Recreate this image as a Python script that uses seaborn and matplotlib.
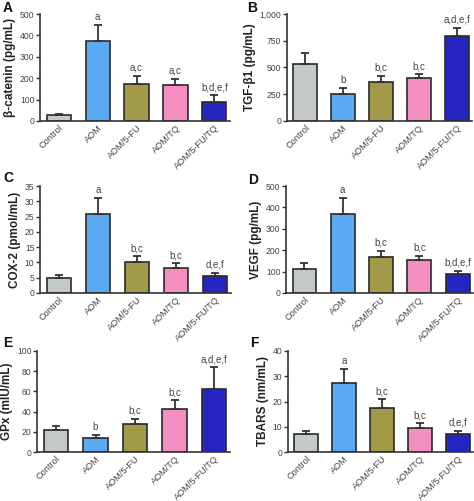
import numpy as np
import pandas as pd
import matplotlib
matplotlib.use("Agg")
import matplotlib.pyplot as plt
import seaborn as sns

groups = ["Control", "AOM", "AOM/5-FU", "AOM/TQ", "AOM/5-FU/TQ"]
colors = ["#c3c9c9", "#5aa9f2", "#a29a48", "#f28fc0", "#2525c2"]

bcat_mean = [28, 372, 172, 168, 87]
bcat_err = [6, 76, 38, 29, 33]
bcat_sig = ["", "a", "a,c", "a,c", "b,d,e,f"]

tgf_mean = [535, 255, 360, 405, 795]
tgf_err = [105, 55, 65, 30, 75]
tgf_sig = ["", "b", "b,c", "b,c", "a,d,e,f"]

cox_mean = [4.8, 26.0, 10.2, 8.2, 5.4]
cox_err = [1.0, 5.0, 1.8, 1.5, 1.1]
cox_sig = ["", "a", "b,c", "b,c", "d,e,f"]

vegf_mean = [110, 368, 168, 152, 87]
vegf_err = [28, 77, 29, 23, 18]
vegf_sig = ["", "a", "b,c", "b,c", "b,d,e,f"]

gpx_mean = [22, 14, 28, 43, 62]
gpx_err = [4, 3, 5, 8, 22]
gpx_sig = ["", "b", "b,c", "b,c", "a,d,e,f"]

tbars_mean = [7.0, 27.3, 17.4, 9.5, 7.3]
tbars_err = [1.2, 5.6, 3.4, 1.8, 1.2]
tbars_sig = ["", "a", "b,c", "b,c", "d,e,f"]

panels = [
    ("A", "β-catenin (pg/mL)", bcat_mean, bcat_err, bcat_sig, (0, 500), [0, 100, 200, 300, 400, 500], None),
    ("B", "TGF-β1 (pg/mL)", tgf_mean, tgf_err, tgf_sig, (0, 1000), [0, 250, 500, 750, 1000], "comma"),
    ("C", "COX-2 (pmol/mL)", cox_mean, cox_err, cox_sig, (0, 35), [0, 5, 10, 15, 20, 25, 30, 35], None),
    ("D", "VEGF (pg/mL)", vegf_mean, vegf_err, vegf_sig, (0, 500), [0, 100, 200, 300, 400, 500], None),
    ("E", "GPx (mIU/mL)", gpx_mean, gpx_err, gpx_sig, (0, 100), [0, 20, 40, 60, 80, 100], None),
    ("F", "TBARS (nm/mL)", tbars_mean, tbars_err, tbars_sig, (0, 40), [0, 10, 20, 30, 40], None),
]

W, H = 474, 501
# axes boxes in pixels: left, right, top, bottom
boxes = [
    (40, 230, 14, 121),
    (287, 472, 14, 121),
    (40, 231, 186, 293),
    (286, 473, 186, 293),
    (37, 230, 351, 452),
    (288, 473, 351, 452),
]
letter_pos = [(3, 8), (247, 8), (3, 178), (248, 180), (3, 343), (250, 343)]

sns.set_style("white")
plt.rcParams["font.family"] = ["Liberation Sans", "DejaVu Sans"]

fig = plt.figure(figsize=(W / 100, H / 100), dpi=100)
txtc = "#444444"

for (letter, ylabel, mean, err, sig, ylim, yticks, fmt), (l, r, t, b), (lx, ly) in zip(panels, boxes, letter_pos):
    ax = fig.add_axes([l / W, 1 - b / H, (r - l) / W, (b - t) / H])
    df = pd.DataFrame({"group": groups, "value": mean})
    sns.barplot(data=df, x="group", y="value", hue="group", palette=colors,
                order=groups, hue_order=groups, legend=False, ax=ax, saturation=1,
                width=0.62, edgecolor="#2a2a2a", linewidth=1.2, errorbar=None)
    x = np.arange(len(groups))
    ax.errorbar(x, mean, yerr=[np.zeros(len(mean)), err], fmt="none",
                ecolor="#333333", elinewidth=1.3, capsize=3, capthick=1.3, zorder=1)
    for xi, m, e, s in zip(x, mean, err, sig):
        if s:
            ax.text(xi, m + e + (ylim[1] - ylim[0]) * 0.03, s, ha="center", va="bottom",
                    fontsize=7, color=txtc)
    ax.set_ylim(*ylim)
    ax.set_xlim(-0.48, 4.4)
    ax.set_yticks(yticks)
    if fmt == "comma":
        ax.set_yticklabels([f"{v:,}" for v in yticks])
    ax.set_xlabel("")
    ax.set_ylabel(ylabel, fontsize=8.5, fontweight="bold", color="#222222", labelpad=3)
    ax.set_xticks(x)
    ax.set_xticklabels(groups, rotation=45, ha="right", rotation_mode="anchor", fontsize=6.6, color=txtc)
    ax.tick_params(axis="y", labelsize=6.2, labelcolor=txtc, length=3, width=1, left=True, color="#333333", pad=1)
    ax.tick_params(axis="x", length=0, pad=1.5)
    sns.despine(ax=ax)
    for sp in ["left", "bottom"]:
        ax.spines[sp].set_color("#333333")
        ax.spines[sp].set_linewidth(1.2)
    fig.text(lx / W, 1 - ly / H, letter, fontsize=10, fontweight="bold", va="center", ha="left", color="#111111")

fig.savefig("out.png", dpi=100)
